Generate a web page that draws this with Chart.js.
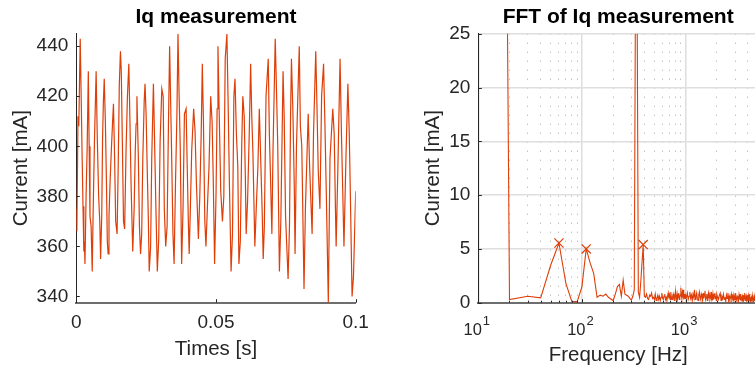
<!DOCTYPE html>
<html>
<head>
<meta charset="utf-8">
<script src="https://cdn.jsdelivr.net/npm/chart.js@4/dist/chart.umd.min.js"></script>
<style>
  html, body { margin: 0; padding: 0; overflow: hidden; background: #fff; width: 755px; height: 372px; }
  #timeChart { position: absolute; left: 0; top: 0; }
  #fftChart { position: absolute; left: 380px; top: 0; }
</style>
</head>
<body>
<canvas id="timeChart" width="380" height="372"></canvas>
<canvas id="fftChart" width="395" height="372"></canvas>
<script>
const timeMs = [
  0.0, 0.2, 0.6, 0.9, 1.4, 1.7, 2.1, 2.4, 2.7, 2.9,
  3.1, 3.5, 3.9, 4.3, 4.6, 4.9, 5.3, 5.7, 6.0, 6.5,
  7.1, 7.5, 8.0, 8.4, 8.7, 9.1, 9.4, 9.7, 10.0, 10.4,
  10.8, 11.1, 11.4, 11.7, 12.1, 12.6, 13.0, 13.3, 13.7, 14.1,
  14.6, 15.0, 15.4, 15.8, 16.1, 16.5, 16.9, 17.3, 17.8, 18.3,
  18.8, 19.2, 19.6, 20.2, 20.7, 21.1, 21.4, 21.7, 22.2, 22.6,
  23.0, 23.4, 23.8, 24.3, 24.6, 25.0, 25.4, 25.8, 26.1, 26.6,
  27.0, 27.6, 28.0, 28.5, 29.0, 29.5, 30.0, 30.6, 31.1, 31.5,
  32.0, 32.5, 33.0, 33.4, 33.7, 34.1, 34.6, 35.0, 35.5, 36.0,
  36.4, 36.8, 37.2, 37.7, 38.2, 38.7, 39.3, 39.7, 40.1, 40.4,
  40.8, 41.3, 42.0, 42.5, 43.0, 43.7, 44.2, 44.7, 45.1, 45.5,
  46.0, 46.4, 46.9, 47.5, 48.1, 48.6, 49.0, 49.5, 50.0, 50.4,
  50.7, 51.2, 51.7, 52.3, 52.8, 53.3, 53.9, 54.3, 54.8, 55.4,
  55.9, 56.4, 56.8, 57.3, 57.8, 58.2, 58.7, 59.2, 59.6, 60.1,
  60.5, 60.8, 61.3, 61.9, 62.4, 62.8, 63.2, 63.9, 64.4, 65.0,
  65.5, 66.0, 66.5, 66.9, 67.3, 67.9, 68.7, 69.1, 69.5, 70.0,
  70.4, 71.2, 71.6, 72.1, 72.7, 73.2, 74.0, 74.4, 74.9, 75.8,
  76.3, 76.7, 77.0, 77.5, 78.0, 78.3, 78.8, 79.8, 80.2, 80.7,
  81.5, 82.0, 83.0, 83.5, 84.4, 84.9, 85.7, 86.1, 86.6, 87.2,
  87.8, 88.5, 89.0, 89.5, 90.2, 90.8, 91.8, 92.3, 92.8, 93.0,
  93.6, 94.4, 94.9, 95.8, 96.5, 97.2, 97.7, 98.1, 98.7, 99.2,
  100.0
];
const iqMA = [
  375, 366, 412, 408, 443, 423, 395, 376, 358, 362,
  353, 380, 400, 430, 400, 372, 368, 350, 372, 402,
  430, 404, 380, 370, 355, 372, 403, 418, 427, 410,
  385, 362, 357, 372, 386, 400, 410, 417, 396, 370,
  365, 392, 425, 438, 430, 400, 370, 367, 398, 420,
  433, 410, 385, 358, 375, 398, 409, 420, 396, 368,
  357, 365, 395, 418, 425, 412, 390, 370, 350, 360,
  395, 425, 403, 375, 350, 363, 402, 423, 420, 375,
  360, 368, 410, 440, 422, 398, 365, 353, 385, 412,
  445, 420, 400, 353, 375, 413, 415, 392, 370, 357,
  374, 398, 415, 406, 385, 363, 380, 405, 433, 410,
  370, 360, 375, 392, 420, 410, 388, 353, 380, 415,
  440, 410, 382, 370, 380, 435, 445, 420, 385, 350,
  365, 420, 427, 405, 392, 353, 362, 400, 420, 412,
  388, 365, 378, 405, 433, 412, 398, 360, 375, 392,
  415, 395, 375, 355, 368, 420, 435, 405, 388, 365,
  398, 443, 425, 400, 350, 370, 430, 412, 372, 347,
  368, 413, 435, 415, 385, 357, 400, 440, 408, 400,
  343, 375, 413, 392, 365, 405, 438, 418, 390, 375,
  420, 433, 408, 380, 337.5, 395, 415, 405, 372, 360,
  390, 435, 405, 360, 395, 425, 405, 380, 340, 348,
  382
];
const timeTicks = [0, 0.05, 0.1];
const timeTickLabels = ['0', '0.05', '0.1'];
const currentTicks = [340, 360, 380, 400, 420, 440];

// FFT of Iq: frequency in Hz, amplitude in mA
const fftFreq = [
  10, 20, 30, 40, 50, 60, 70, 80, 90, 100,
  110, 120, 130, 140, 150, 160, 170, 180, 190, 200,
  210, 220, 230, 240, 250, 260, 270, 280, 290, 300,
  310, 320, 330, 340, 350, 360, 370, 380, 390, 400,
  410, 420, 430, 440, 450, 460, 470, 480, 490, 500,
  510, 520, 530, 540, 550, 560, 570, 580, 590, 600,
  610, 620, 630, 640, 650, 660, 670, 680, 690, 700,
  710, 720, 730, 740, 750, 760, 770, 780, 790, 800,
  810, 820, 830, 840, 850, 860, 870, 880, 890, 900,
  910, 920, 930, 940, 950, 960, 970, 980, 990, 1000,
  1020, 1040, 1060, 1080, 1100, 1120, 1140, 1160, 1180, 1200,
  1220, 1240, 1260, 1280, 1300, 1320, 1340, 1360, 1380, 1400,
  1420, 1440, 1460, 1480, 1500, 1520, 1540, 1560, 1580, 1600,
  1620, 1640, 1660, 1680, 1700, 1720, 1740, 1760, 1780, 1800,
  1820, 1840, 1860, 1880, 1900, 1920, 1940, 1960, 1980, 2000,
  2040, 2080, 2120, 2160, 2200, 2240, 2280, 2320, 2360, 2400, 2440, 2480, 2520, 2560, 2600,
  2640, 2680, 2720, 2760, 2800, 2840, 2880, 2920, 2960, 3000, 3040, 3080, 3120, 3160, 3200,
  3240, 3280, 3320, 3360, 3400, 3440, 3480, 3520, 3560, 3600, 3640, 3680, 3720, 3760, 3800,
  3840, 3880, 3920, 3960, 4000, 4040, 4080, 4120, 4160, 4200, 4240, 4280, 4320, 4360, 4400,
  4440, 4480, 4520, 4560, 4600, 4640, 4680, 4720, 4760, 4800, 4840, 4880, 4920, 4960, 5000
];
const fftAmp = [
  390, 0.3, 0.6, 0.45, 3.5, 5.55, 1.8, 0.1, 0.1, 1.5,
  5.0, 3.7, 2.7, 0.5, 0.7, 0.6, 0.8, 0.5, 0.35, 0.2,
  0.8, 1.5, 1.7, 0.6, 2.1, 0.8, 0.7, 0.6, 0.4, 0.25,
  0.6, 1.2, 34, 31, 1.0, 0.5, 2.0, 3.7, 5.4, 0.6,
  0.5, 0.8, 0.4, 0.3, 0.7, 0.6, 0.9, 0.4, 0.5, 0.3,
  0.8, 0.2, 0.4, 0.7, 0.3, 0.6, 0.2, 0.5, 0.9, 0.4,
  0.3, 0.6, 0.8, 0.3, 0.5, 0.2, 0.6, 0.9, 0.4, 0.7,
  0.3, 1.0, 0.5, 0.3, 0.6, 0.8, 0.4, 0.2, 0.7, 1.1,
  0.5, 0.3, 0.8, 0.4, 0.6, 0.9, 0.3, 0.5, 0.7, 1.4,
  0.6, 0.4, 0.9, 0.5, 1.2, 0.3, 0.6, 0.8, 0.4, 0.7,
  0.5, 0.9, 0.3, 0.6, 1.0, 0.4, 0.7, 0.2, 0.8, 0.5,
  1.2, 0.3, 0.6, 0.9, 0.4, 0.2, 0.7, 1.0, 0.5, 0.3,
  0.8, 0.6, 0.2, 0.9, 0.4, 0.7, 1.1, 0.3, 0.5, 0.8,
  0.2, 0.6, 0.9, 0.4, 0.7, 0.3, 0.5, 1.0, 0.4, 0.6,
  0.2, 0.8, 0.5, 0.3, 0.7, 0.9, 0.4, 0.6, 0.2, 0.8,
  0.5, 0.3, 0.7, 0.9, 0.2, 0.6, 0.4, 0.8, 0.3, 0.5, 0.1, 0.7, 0.4, 0.9, 0.2,
  0.6, 0.3, 0.5, 0.8, 0.2, 0.4, 0.7, 0.1, 0.6, 0.3, 0.9, 0.4, 0.2, 0.6, 0.5,
  0.1, 0.7, 0.3, 0.8, 0.2, 0.5, 0.4, 0.6, 0.1, 0.7, 0.3, 0.5, 0.9, 0.2, 0.4,
  0.6, 0.1, 0.5, 0.3, 0.7, 0.2, 0.6, 0.4, 0.8, 0.1, 0.5, 0.3, 0.6, 0.2, 0.7,
  0.4, 0.1, 0.5, 0.3, 0.6, 0.2, 0.4, 0.7, 0.1, 0.5, 0.3, 0.6, 0.2, 0.4, 0.3
];
// marked harmonics
const peakFreq = [60, 110, 390];
const peakAmp = [5.55, 5.0, 5.4];

// decade labels are drawn as base "10" plus a raised exponent
const fftTicks = [10, 100, 1000];
const fftTickBase = '10';
const fftTickExp = ['1', '2', '3'];
const fftGridFreq = [
  10, 20, 30, 40, 50, 60, 70, 80, 90,
  100, 200, 300, 400, 500, 600, 700, 800, 900,
  1000, 2000, 3000, 4000, 5000
];
const ampTicks = [0, 5, 10, 15, 20, 25];

const lineColor = 'rgb(222,62,8)';
const axisColor = '#262626';
const fontFamily = "'Liberation Sans', Arial, Helvetica, sans-serif";

Chart.defaults.font.family = fontFamily;
Chart.defaults.color = axisColor;

// MATLAB-style tick marks pointing into the plot area
const inwardTicks = {
  id: 'inwardTicks',
  afterDatasetsDraw(chart) {
    const { ctx, chartArea, scales } = chart;
    ctx.save();
    ctx.strokeStyle = axisColor;
    ctx.lineWidth = 1;
    ctx.beginPath();
    scales.x.ticks.forEach((t) => {
      const px = Math.round(scales.x.getPixelForValue(t.value)) + 0.5;
      const len = t.major === false ? 2 : 3.5;
      ctx.moveTo(px, chartArea.bottom);
      ctx.lineTo(px, chartArea.bottom - len);
    });
    scales.y.ticks.forEach((t) => {
      const py = Math.round(scales.y.getPixelForValue(t.value)) + 0.5;
      ctx.moveTo(chartArea.left, py);
      ctx.lineTo(chartArea.left + 3.5, py);
    });
    ctx.stroke();
    ctx.restore();
  }
};

// 10^n labels under the log axis
const powerLabels = {
  id: 'powerLabels',
  afterDraw(chart) {
    const { ctx, chartArea, scales } = chart;
    const baseY = chartArea.bottom + 32.3;
    ctx.save();
    ctx.fillStyle = axisColor;
    ctx.textBaseline = 'alphabetic';
    ctx.textAlign = 'left';
    fftTicks.forEach((v, i) => {
      const px = scales.x.getPixelForValue(v);
      ctx.font = '16.5px ' + fontFamily;
      const wb = ctx.measureText(fftTickBase).width;
      ctx.font = '13px ' + fontFamily;
      const we = ctx.measureText(fftTickExp[i]).width;
      const x0 = px - (wb + we) / 2 - 2;
      ctx.font = '16.5px ' + fontFamily;
      ctx.fillText(fftTickBase, x0, baseY);
      ctx.font = '13px ' + fontFamily;
      ctx.fillText(fftTickExp[i], x0 + wb + 1, baseY - 10);
    });
    ctx.restore();
  }
};

function titleOpts(text) {
  return {
    display: true,
    text: text,
    fullSize: false,
    color: '#000',
    font: { size: 21, weight: 'bold', lineHeight: 1.143 },
    padding: { top: 5, bottom: 4.7 }
  };
}

// Left: time trace
new Chart(document.getElementById('timeChart'), {
  type: 'line',
  data: {
    datasets: [{
      data: timeMs.map((t, i) => ({ x: t / 1000, y: iqMA[i] })),
      borderColor: lineColor,
      borderWidth: 1.2,
      pointRadius: 0,
      tension: 0
    }]
  },
  options: {
    responsive: false,
    animation: false,
    layout: { padding: { left: 0, right: 24.3, top: 0, bottom: 0 } },
    plugins: {
      legend: { display: false },
      tooltip: { enabled: false },
      title: titleOpts('Iq measurement')
    },
    scales: {
      x: {
        type: 'linear',
        min: 0,
        max: 0.1,
        afterBuildTicks: (s) => { s.ticks = timeTicks.map((v) => ({ value: v })); },
        afterFit: (s) => { s.height = 69.3; },
        ticks: {
          callback: (v, i) => timeTickLabels[i],
          font: { size: 19 },
          padding: 9.1,
          maxRotation: 0,
          autoSkip: false
        },
        grid: { drawOnChartArea: false, drawTicks: false },
        border: { color: '#6e6e6e', width: 2 },
        title: { display: true, text: 'Times [s]', font: { size: 20.5 }, padding: { top: 0, bottom: 10.2 } }
      },
      y: {
        min: 337.5,
        max: 445,
        afterBuildTicks: (s) => { s.ticks = currentTicks.map((v) => ({ value: v })); },
        afterFit: (s) => { s.width = 76.3; },
        ticks: { font: { size: 19 }, padding: 8, autoSkip: false },
        grid: { drawOnChartArea: false, drawTicks: false },
        border: { color: axisColor, width: 1 },
        title: { display: true, text: 'Current [mA]', font: { size: 20.5 }, padding: { top: 8.7, bottom: 0 } }
      }
    }
  },
  plugins: [inwardTicks]
});

// Right: spectrum on a log frequency axis
const isDecade = (ctx) => ctx.tick && fftTicks.indexOf(ctx.tick.value) >= 0;

new Chart(document.getElementById('fftChart'), {
  type: 'line',
  data: {
    datasets: [
      {
        data: fftFreq.map((f, i) => ({ x: f, y: fftAmp[i] })),
        borderColor: lineColor,
        borderWidth: 1.1,
        pointRadius: 0,
        tension: 0
      },
      {
        data: peakFreq.map((f, i) => ({ x: f, y: peakAmp[i] })),
        showLine: false,
        borderColor: lineColor,
        backgroundColor: lineColor,
        pointStyle: 'crossRot',
        pointRadius: 6.5,
        pointBorderWidth: 1.2
      }
    ]
  },
  options: {
    responsive: false,
    animation: false,
    layout: { padding: { left: 0, right: 17, top: 0, bottom: 0 } },
    plugins: {
      legend: { display: false },
      tooltip: { enabled: false },
      title: titleOpts('FFT of Iq measurement')
    },
    scales: {
      x: {
        type: 'logarithmic',
        min: 10,
        max: 5000,
        afterBuildTicks: (s) => {
          s.ticks = fftGridFreq.map((v) => ({ value: v, major: fftTicks.indexOf(v) >= 0 }));
        },
        afterFit: (s) => { s.height = 69.3; },
        ticks: {
          callback: () => '',
          maxRotation: 0,
          autoSkip: false
        },
        grid: {
          drawTicks: false,
          color: (c) => (isDecade(c) ? '#dedede' : '#a8a8a8'),
          lineWidth: (c) => (isDecade(c) ? 1.5 : 1)
        },
        border: {
          color: '#6e6e6e',
          width: 2,
          dash: (c) => (c.tick && !isDecade(c) ? [1, 8] : [])
        },
        title: { display: true, text: 'Frequency [Hz]', font: { size: 20.5 }, padding: { top: 0, bottom: 4.7 } }
      },
      y: {
        min: 0,
        max: 25,
        afterBuildTicks: (s) => { s.ticks = ampTicks.map((v) => ({ value: v })); },
        afterFit: (s) => { s.width = 98.3; },
        ticks: { font: { size: 19 }, padding: 8, autoSkip: false },
        grid: { drawTicks: false, color: '#dedede', lineWidth: 1.5 },
        border: { color: axisColor, width: 1 },
        title: { display: true, text: 'Current [mA]', font: { size: 20.5 }, padding: { top: 41.3, bottom: 0 } }
      }
    }
  },
  plugins: [inwardTicks, powerLabels]
});
</script>
</body>
</html>
